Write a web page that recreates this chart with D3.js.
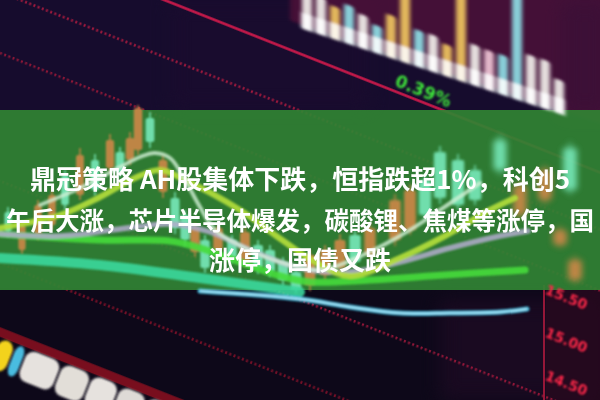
<!DOCTYPE html>
<html><head><meta charset="utf-8">
<script src="https://cdn.jsdelivr.net/npm/d3@7"></script>
<style>html,body{margin:0;padding:0;background-color:#160c2d;overflow:hidden;width:600px;height:400px}svg{display:block}</style>
</head><body><svg id="c" width="600" height="400"></svg>
<script>
// ---------- data ----------
const titleLines = ["鼎冠策略 AH股集体下跌，恒指跌超1%，科创5", "午后大涨，芯片半导体爆发，碳酸锂、焦煤等涨停，国", "涨停，国债又跌"];

const candleDay   = [0.8,2.2,3.8,5.2,6.5,8.0,9.5,11.0,12.0,13.0,13.8,15.0,16.3,17.5,18.5,19.5,20.5,21.8,23.2,24.5,25.8,27.0,28.3,29.6,31.0,32.5,34.0,35.5,37.0,39.5,41.0,42.5,44.0,45.8,47.5,50.0,52.0,54.5,57.0,56.0,57.5];
const candleOpen  = [18.8,15.0,16.5,17.5,22.5,20.5,24.0,23.2,24.8,24.0,25.0,28.2,20.8,20.2,18.5,14.8,16.0,15.0,16.0,13.8,15.5,15.0,13.8,12.8,11.5,12.5,13.2,16.5,14.5,16.0,17.0,22.0,24.8,24.0,23.0,26.0,18.5,20.0,25.2,15.5,12.0];
const candleClose = [16.8,17.5,19.5,20.5,19.5,24.5,21.0,26.0,22.8,26.2,29.2,25.8,24.0,17.2,16.0,17.2,13.2,17.2,14.2,16.8,13.2,12.8,12.0,11.0,14.5,15.0,16.0,13.8,17.2,20.0,21.0,18.5,20.2,19.5,20.0,23.0,21.5,23.0,21.0,17.0,14.0];
const candleHigh  = [19.3,17.9,20.0,21.0,23.0,25.2,24.6,26.6,25.3,26.8,29.5,28.8,24.5,20.8,19.0,17.7,16.5,17.6,16.5,17.3,16.0,15.5,14.3,13.3,15.0,15.5,16.6,17.0,17.8,20.6,21.6,22.6,25.4,24.6,23.5,26.6,22.0,23.5,25.8,17.4,14.4];
const candleLow   = [16.3,14.6,16.0,17.0,19.0,20.0,20.4,22.6,22.3,23.5,24.5,25.2,20.2,16.6,15.4,14.3,12.7,14.5,13.7,13.3,12.6,12.3,11.4,10.6,10.9,12.0,12.7,13.3,14.0,15.4,16.5,18.0,19.6,19.0,19.5,22.4,18.0,19.5,20.5,15.2,11.6];

const maLimeDay    = [0,6,10,13.5,16,18.5,24,27.5,31.5,35,40,44.5,49,51.5];
const maLimePrice  = [17.2,18.5,20.3,22.2,23.0,22.0,19.0,16.5,13.8,12.4,14.2,16.4,19.0,20.2];
const maPaleDay    = [4,8,12,14,15.5,17,18.5,20,21.5,24.5,28,32,36.3,41,44,48];
const maPalePrice  = [19.5,21.2,23.3,24.3,24.7,24.2,22.0,19.3,17.0,15.2,13.8,13.0,14.5,17.0,19.0,21.7];
const maGrayDay    = [0,6,12,17,21,25,30,35,40,45,50,52.8];
const maGrayPrice  = [16.6,16.4,17.1,17.6,16.8,15.0,13.2,12.8,13.8,15.2,16.4,16.9];
const maGreenDay   = [0,10,17,20,24,28,31,37,43,52.5];
const maGreenPrice = [16.6,16.0,15.9,15.2,13.8,12.4,11.8,12.0,12.4,13.0];
const maTealDay    = [0,10,20,30];
const maTealPrice  = [14.2,13.5,12.2,10.8];
const maCyanDay    = [20,30,35,40,45,50,52.7];
const maCyanPrice  = [10.9,10.1,9.3,8.7,8.7,8.8,9.1];

const volumeValues = [36,38,33,39,34,28,43,70,37,37,32,88,41,40,40,106,49,49,34];
const volumeKind   = ["w","w","y","c","w","c","y","y","c","w","y","y","w","p","c","c","w","w","w"];

const gridLevels = [-65,-8,53,181,263,332];
const blobLengths = [18,12,38,32,30,30,32];
const priceLabels = ["15.50","15.00","14.50"];
const changeLabel = "0.39%";

// ---------- setup ----------
const W = 600, H = 400;
const theta = 21.6;
const cosT = Math.cos(theta*Math.PI/180);
const gridY = d3.scaleLinear().domain([0,100]).range([0,100*cosT]);
const skew = 18.3;
const svg = d3.select('#c');
const defs = svg.append('defs');
function blur(id, s){
  defs.append('filter').attr('id',id)
    .attr('x','-30%').attr('y','-30%').attr('width','160%').attr('height','160%')
    .append('feGaussianBlur').attr('stdDeviation',s);
}
blur('b05',0.4); blur('b1',0.9); blur('b2',1.8); blur('b3',3); blur('b8',9);

// complement of a colour; the background group is painted in complements and
// then flipped back with a white "difference" layer, giving the intended dark tones
const inv = c => { const k = d3.rgb(c); return d3.rgb(255-k.r,255-k.g,255-k.b).formatHex(); };

// ===== dark photo background (isolated group) =====
const bgG = svg.append('g').style('isolation','isolate');
bgG.append('rect').attr('x',0).attr('y',0).attr('width',W).attr('height',H).attr('fill',inv('#160c2d'));
bgG.append('rect').attr('x',170).attr('y',0).attr('width',200).attr('height',110).attr('fill',inv('#1a0b2e')).attr('opacity',0.7).attr('filter','url(#b8)');
bgG.append('g').attr('transform',`translate(300,28) skewY(${skew})`)
  .append('rect').attr('x',-10).attr('y',-150).attr('width',320).attr('height',146)
  .attr('fill',inv('#4c1038')).attr('opacity',0.85).attr('filter','url(#b2)');
bgG.append('rect').attr('x',560).attr('y',0).attr('width',50).attr('height',115).attr('fill',inv('#3a0f36')).attr('opacity',0.8).attr('filter','url(#b8)');
bgG.append('rect').attr('x',0).attr('y',288).attr('width',W).attr('height',112).attr('fill',inv('#0d0819'));
bgG.append('rect').attr('x',440).attr('y',300).attr('width',160).attr('height',100).attr('fill',inv('#1c0a22')).attr('opacity',0.8).attr('filter','url(#b8)');
bgG.append('rect').attr('x',546).attr('y',288).attr('width',54).attr('height',112).attr('fill',inv('#26091e')).attr('opacity',0.9);

// perspective grid lines
const gridStyle = [
  {stroke:'#d41a4c', w:2.4, dash:null, op:0.95},
  {stroke:'#b01a3e', w:2.6, dash:'2,2.5', op:0.9},
  {stroke:'#a01838', w:2.6, dash:'2,2.5', op:0.85},
  {stroke:'#a8183c', w:2.4, dash:'2,2.5', op:0.85},
  {stroke:'#7e1028', w:2.8, dash:'2,2.5', op:0.9},
  {stroke:'#7e0e1e', w:9, dash:null, op:0.95}
];
bgG.append('g').attr('transform',`rotate(${theta})`).attr('filter','url(#b05)')
  .selectAll('line').data(gridLevels).join('line')
  .attr('x1',-300).attr('x2',900).attr('y1',d=>gridY(d)).attr('y2',d=>gridY(d))
  .attr('stroke',(d,i)=>inv(gridStyle[i].stroke)).attr('stroke-width',(d,i)=>gridStyle[i].w)
  .attr('stroke-dasharray',(d,i)=>gridStyle[i].dash).attr('opacity',(d,i)=>gridStyle[i].op);

// vertical price axis, bottom right
bgG.append('line').attr('x1',544).attr('x2',544).attr('y1',285).attr('y2',400)
  .attr('stroke',inv('#a4183a')).attr('stroke-width',2).attr('opacity',0.9);

// green banner
bgG.append('rect').attr('x',0).attr('y',110).attr('width',W).attr('height',180)
  .attr('fill',inv('#318333')).attr('opacity',0.92);

// flip back to the real colours
bgG.append('rect').attr('x',0).attr('y',0).attr('width',W).attr('height',H)
  .attr('fill','#ffffff').style('mix-blend-mode','difference');

// ===== bright marks and text =====
// top-right volume bars (perspective via skew)
const volX = d3.scaleLinear().domain([0,18]).range([7,259]);
const volH = d3.scaleLinear().domain([0,100]).range([0,100]);
const volColor = {w:'#f2f0ec', y:'#f0c660', c:'#8ee0e6', p:'#f0c6d6'};
const vg = svg.append('g').attr('transform',`translate(300,28) skewY(${skew})`);
const vb = vg.append('g').attr('filter','url(#b2)');
vb.selectAll('rect.v').data(volumeValues).join('rect').attr('class','v')
  .attr('x',(d,i)=>volX(i)-5).attr('width',10)
  .attr('y',d=>-volH(d)).attr('height',d=>volH(d))
  .attr('rx',3).attr('fill',(d,i)=>volColor[volumeKind[i]]).attr('opacity',0.92);
vb.selectAll('rect.base').data(volumeValues).join('rect').attr('class','base')
  .attr('x',(d,i)=>volX(i)-6).attr('width',12)
  .attr('y',d=>-Math.min(volH(d),16)).attr('height',d=>Math.min(volH(d),16))
  .attr('fill','#ffffff').attr('opacity',0.85);

// bottom-left glowing blobs along the grid
const gg = svg.append('g').attr('transform',`rotate(${theta})`);
const blobStart = 125, blobC = gridY(355);
const blobCum = d3.cumsum(blobLengths);
const blobColor = ['#f3d31c','#48bce0','#e6e2de','#e2ded8','#e6e2de','#dedad6','#e4e0dc'];
gg.append('g').attr('filter','url(#b1)').selectAll('rect').data(blobLengths).join('rect')
  .attr('x',(d,i)=>blobStart + blobCum[i]-d).attr('width',d=>d-2)
  .attr('y',blobC-16).attr('height',32).attr('rx',9)
  .attr('fill',(d,i)=>blobColor[i]);

// green change label
svg.append('text').attr('transform','translate(423,92) rotate(22)')
  .attr('text-anchor','middle').attr('dominant-baseline','middle')
  .attr('font-family','"DejaVu Sans",sans-serif').attr('font-weight',700).attr('font-size',17)
  .attr('fill','#3fe83a').attr('filter','url(#b1)').text(changeLabel);

// price labels bottom right
const labY = d3.scalePoint().domain(priceLabels).range([298,384]);
svg.append('g').attr('filter','url(#b1)').selectAll('text').data(priceLabels).join('text')
  .attr('transform',d=>`translate(566,${labY(d)}) rotate(22)`)
  .attr('text-anchor','middle').attr('dominant-baseline','middle')
  .attr('font-family','"DejaVu Sans",sans-serif').attr('font-weight',700).attr('font-size',14)
  .attr('fill','#ff2848').text(d=>d);

// candlesticks
const x = d3.scaleLinear().domain([0,60]).range([0,W]);
const y = d3.scaleLinear().domain([0,40]).range([H,0]);
const candles = candleDay.map((d,i)=>({d, o:candleOpen[i], c:candleClose[i], h:candleHigh[i], l:candleLow[i]}));
const upCol = '#d8884a', dnCol = '#7cf0c2';
function drawCandles(g, data){
  const s = g.selectAll('g').data(data).join('g');
  s.append('line').attr('x1',d=>x(d.d)).attr('x2',d=>x(d.d)).attr('y1',d=>y(d.h)).attr('y2',d=>y(d.l))
    .attr('stroke',d=>d.c>d.o?upCol:dnCol).attr('stroke-width',1.6);
  s.append('rect').attr('x',d=>x(d.d)-(3.5+d.d*0.06)).attr('width',d=>7+d.d*0.12)
    .attr('y',d=>y(Math.max(d.o,d.c))).attr('height',d=>Math.abs(y(d.o)-y(d.c)))
    .attr('rx',2).attr('fill',d=>d.c>d.o?upCol:dnCol);
}
const cg = svg.append('g').attr('opacity',0.85);
drawCandles(cg.append('g').attr('filter','url(#b1)'), candles.filter(d=>d.d<36));
drawCandles(cg.append('g').attr('filter','url(#b2)'), candles.filter(d=>d.d>=36 && d.d<48));
drawCandles(cg.append('g').attr('filter','url(#b3)'), candles.filter(d=>d.d>=48));

// moving-average lines
const line = d3.line().x(d=>x(d[0])).y(d=>y(d[1])).curve(d3.curveCatmullRom);
const mas = [
  {day:maTealDay,  price:maTealPrice,  col:'#3ad89c', w:10, op:0.9},
  {day:maGreenDay, price:maGreenPrice, col:'#46dc3c', w:7,  op:0.9},
  {day:maGrayDay,  price:maGrayPrice,  col:'#b2accc', w:5.5,op:0.85},
  {day:maLimeDay,  price:maLimePrice,  col:'#b6e03c', w:6,  op:0.9},
  {day:maPaleDay,  price:maPalePrice,  col:'#d2f0d6', w:4,  op:0.8},
  {day:maCyanDay,  price:maCyanPrice,  col:'#46c4e6', w:5,  op:0.95}
];
const mg = svg.append('g').attr('filter','url(#b1)');
mas.forEach(m=>{
  mg.append('path').attr('d',line(m.day.map((d,i)=>[d,m.price[i]])))
    .attr('fill','none').attr('stroke',m.col).attr('stroke-width',m.w)
    .attr('stroke-linecap','round').attr('opacity',m.op);
});
mg.append('path').attr('d',line(maCyanDay.map((d,i)=>[d,maCyanPrice[i]])))
  .attr('fill','none').attr('stroke','#dff6ff').attr('stroke-width',1.5).attr('opacity',0.8);

// title
svg.append('g').attr('font-family','"Noto Sans CJK SC","Noto Sans",sans-serif')
  .attr('font-weight',700).attr('fill','#ffffff').attr('text-anchor','middle')
  .selectAll('text').data(titleLines).join('text')
  .attr('x',300).attr('y',(d,i)=>189+i*40.5)
  .attr('font-size',(d,i)=>i===1?24.5:26)
  .text(d=>d);
</script></body></html>
